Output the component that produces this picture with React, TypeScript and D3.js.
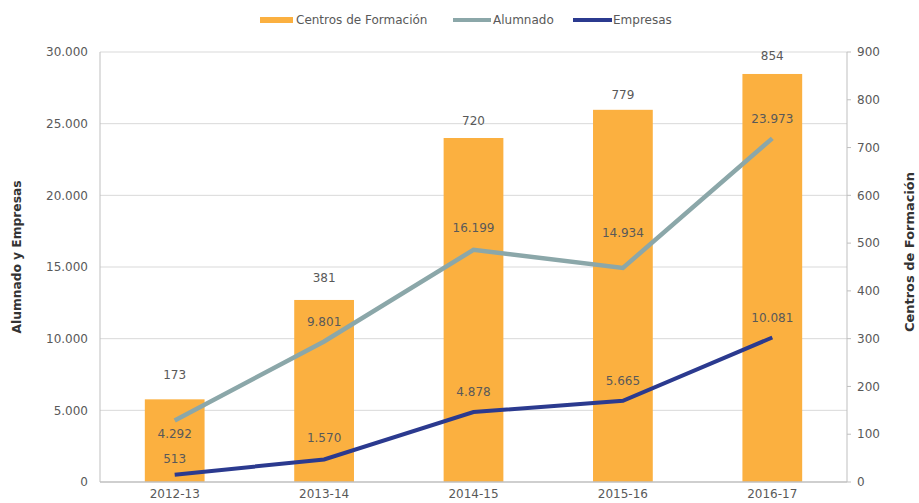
import React from "react";
import * as d3 from "d3";

const categories = ["2012-13", "2013-14", "2014-15", "2015-16", "2016-17"];
const centros = [173, 381, 720, 779, 854];
const alumnado = [4292, 9801, 16199, 14934, 23973];
const empresas = [513, 1570, 4878, 5665, 10081];
const leftTicks = [0, 5000, 10000, 15000, 20000, 25000, 30000];
const rightTicks = [0, 100, 200, 300, 400, 500, 600, 700, 800, 900];
// label offsets (px) relative to mark
const centrosLabelDy = [-25, -22, -17, -15, -18];
const alumnadoLabelDy = [13, -20, -22, -35, -20];
const empresasLabelDy = [-16, -22, -20, -20, -20];

const W = 919;
const H = 503;
const M = { left: 100, right: 847, top: 52, bottom: 482 };
const FONT = "'DejaVu Sans', sans-serif";
const TXT = "#595959";
const ORANGE = "#FBB040";
const TEAL = "#8BA7A9";
const NAVY = "#2B3A8F";

const fmt = (v: number) => String(v).replace(/\B(?=(\d{3})+(?!\d))/g, ".");

export default function App() {
  const x = d3.scaleBand<string>().domain(categories).range([M.left, M.right]);
  const yL = d3.scaleLinear().domain([0, 30000]).range([M.bottom, M.top]);
  const yR = d3.scaleLinear().domain([0, 900]).range([M.bottom, M.top]);
  const bw = x.bandwidth() * 0.4;
  const cx = (c: string) => (x(c) as number) + x.bandwidth() / 2;

  const line = d3
    .line<number>()
    .x((_, i) => cx(categories[i]))
    .y((d) => yL(d));

  return (
    <svg width={W} height={H} style={{ position: "absolute", left: 0, top: 0, background: "#fff" }} fontFamily={FONT}>
      {leftTicks.slice(1).map((t) => (
        <line key={"g" + t} x1={M.left} x2={M.right} y1={yL(t)} y2={yL(t)} stroke="#D9D9D9" strokeWidth={1} />
      ))}
      {categories.map((c, i) => (
        <rect key={"b" + c} x={cx(c) - bw / 2} y={yR(centros[i])} width={bw} height={M.bottom - yR(centros[i])} fill={ORANGE} />
      ))}
      <line x1={M.left} x2={M.left} y1={M.top} y2={M.bottom} stroke="#BFBFBF" strokeWidth={1} />
      <line x1={M.right} x2={M.right} y1={M.top} y2={M.bottom} stroke="#BFBFBF" strokeWidth={1} />
      <line x1={M.left} x2={M.right} y1={M.bottom} y2={M.bottom} stroke="#BFBFBF" strokeWidth={1.5} />
      {rightTicks.map((t) => (
        <g key={"r" + t}>
          <line x1={M.right} x2={M.right + 4} y1={yR(t)} y2={yR(t)} stroke="#BFBFBF" />
          <text x={M.right + 10} y={yR(t)} dy="0.35em" fontSize={12} fill={TXT}>
            {t}
          </text>
        </g>
      ))}
      {leftTicks.map((t) => (
        <text key={"l" + t} x={88} y={yL(t)} dy="0.35em" fontSize={12} fill={TXT} textAnchor="end">
          {fmt(t)}
        </text>
      ))}
      {categories.map((c) => (
        <text key={"x" + c} x={cx(c)} y={494} dy="0.35em" fontSize={12} fill={TXT} textAnchor="middle">
          {c}
        </text>
      ))}
      <path d={line(alumnado) || ""} fill="none" stroke={TEAL} strokeWidth={4.5} />
      <path d={line(empresas) || ""} fill="none" stroke={NAVY} strokeWidth={4} />
      {categories.map((c, i) => (
        <text key={"bl" + c} x={cx(c)} y={yR(centros[i]) + centrosLabelDy[i]} dy="0.35em" fontSize={12} fill={TXT} textAnchor="middle">
          {centros[i]}
        </text>
      ))}
      {categories.map((c, i) => (
        <text key={"al" + c} x={cx(c)} y={yL(alumnado[i]) + alumnadoLabelDy[i]} dy="0.35em" fontSize={12} fill={TXT} textAnchor="middle">
          {fmt(alumnado[i])}
        </text>
      ))}
      {categories.map((c, i) => (
        <text key={"el" + c} x={cx(c)} y={yL(empresas[i]) + empresasLabelDy[i]} dy="0.35em" fontSize={12} fill={TXT} textAnchor="middle">
          {fmt(empresas[i])}
        </text>
      ))}
      <text
        transform={`translate(17,257) rotate(-90)`}
        textAnchor="middle"
        dy="0.35em"
        fontSize={12}
        fontWeight="bold"
        fill="#333"
        textLength={153}
        lengthAdjust="spacingAndGlyphs"
      >
        Alumnado y Empresas
      </text>
      <text
        transform={`translate(910,252) rotate(-90)`}
        textAnchor="middle"
        dy="0.35em"
        fontSize={12}
        fontWeight="bold"
        fill="#333"
        textLength={160}
        lengthAdjust="spacingAndGlyphs"
      >
        Centros de Formación
      </text>
      <rect x={260} y={17} width={33} height={6} fill={ORANGE} />
      <text x={296} y={20} dy="0.35em" fontSize={12} fill={TXT}>
        Centros de Formación
      </text>
      <line x1={453} x2={491} y1={20} y2={20} stroke={TEAL} strokeWidth={4} />
      <text x={493} y={20} dy="0.35em" fontSize={12} fill={TXT}>
        Alumnado
      </text>
      <line x1={573} x2={612} y1={20} y2={20} stroke={NAVY} strokeWidth={4} />
      <text x={613} y={20} dy="0.35em" fontSize={12} fill={TXT}>
        Empresas
      </text>
    </svg>
  );
}
